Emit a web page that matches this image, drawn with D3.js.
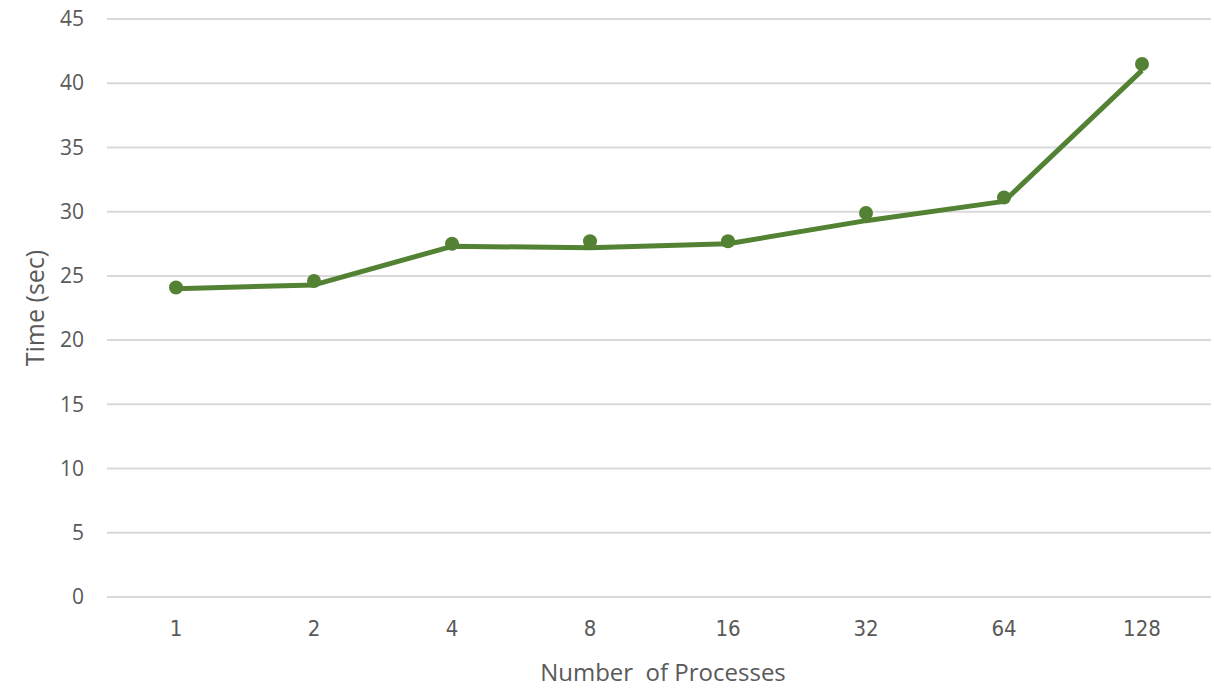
<!DOCTYPE html>
<html>
<head>
<meta charset="utf-8">
<script src="https://cdn.jsdelivr.net/npm/d3@7"></script>
<style>
  html, body { margin: 0; padding: 0; background: #fff; }
  svg { display: block; }
</style>
</head>
<body>
<svg id="chart" width="1214" height="688"></svg>
<script>
// Process counts on the x axis
const processes = ["1", "2", "4", "8", "16", "32", "64", "128"];
// Measured run times (markers)
const measured = [24.1, 24.6, 27.5, 27.7, 27.7, 29.9, 31.1, 41.5];
// Fitted / averaged run times (line)
const fitted = [24.0, 24.3, 27.3, 27.2, 27.5, 29.3, 30.8, 41.0];
// Y axis ticks
const yTicks = [0, 5, 10, 15, 20, 25, 30, 35, 40, 45];

const svg = d3.select("#chart");
const margin = { left: 107, right: 3, top: 19, bottom: 91 };
const W = 1214, H = 688;
const green = "#548235";
const textColor = "#595959";

const x = d3.scaleBand().domain(processes)
  .range([margin.left, W - margin.right]).padding(0);
const y = d3.scaleLinear().domain([0, 45])
  .range([H - margin.bottom, margin.top]);

// Horizontal gridlines
svg.append("g").selectAll("line").data(yTicks).join("line")
  .attr("x1", margin.left).attr("x2", W - margin.right)
  .attr("y1", d => y(d)).attr("y2", d => y(d))
  .attr("stroke", "#d9d9d9").attr("stroke-width", 2);

// Y axis labels
const yAxis = d3.axisLeft(y).tickValues(yTicks).tickSize(0).tickPadding(0);
svg.append("g").attr("transform", `translate(${margin.left - 23},0)`)
  .call(yAxis)
  .call(g => g.select(".domain").remove())
  .call(g => g.selectAll("text")
    .attr("fill", textColor)
    .attr("font-family", "'Open Sans', sans-serif")
    .attr("font-size", 21));

// X axis labels
const xAxis = d3.axisBottom(x).tickSize(0).tickPadding(0);
svg.append("g").attr("transform", `translate(0,${y(0) + 23})`)
  .call(xAxis)
  .call(g => g.select(".domain").remove())
  .call(g => g.selectAll("text")
    .attr("fill", textColor)
    .attr("font-family", "'DejaVu Sans Condensed', 'Liberation Sans Narrow', 'Open Sans', sans-serif")
    .attr("font-size", 22));

// Axis titles
svg.append("text")
  .attr("x", 663).attr("y", 681)
  .attr("text-anchor", "middle")
  .attr("xml:space", "preserve")
  .style("white-space", "pre")
  .attr("fill", textColor)
  .attr("font-family", "'Open Sans', sans-serif")
  .attr("font-size", 24)
  .text("Number  of Processes");

svg.append("text")
  .attr("transform", `translate(44,${(y(0) + y(45)) / 2}) rotate(-90)`)
  .attr("text-anchor", "middle")
  .attr("fill", textColor)
  .attr("font-family", "'Open Sans', sans-serif")
  .attr("font-size", 25)
  .text("Time (sec)");

const cx = d => x(d) + x.bandwidth() / 2;

// Line series
const line = d3.line()
  .x((d, i) => cx(processes[i]))
  .y(d => y(d));
svg.append("path").datum(fitted)
  .attr("d", line)
  .attr("fill", "none")
  .attr("stroke", green)
  .attr("stroke-width", 5)
  .attr("stroke-linejoin", "round");

// Marker series
svg.append("g").selectAll("circle").data(measured).join("circle")
  .attr("cx", (d, i) => cx(processes[i]))
  .attr("cy", d => y(d))
  .attr("r", 7)
  .attr("fill", green);
</script>
</body>
</html>
